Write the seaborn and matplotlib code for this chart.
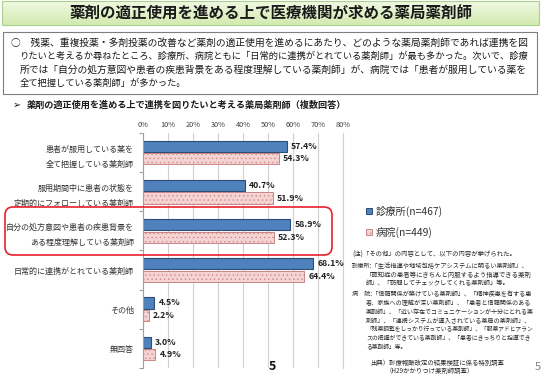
import numpy as np
import pandas as pd
import matplotlib
matplotlib.use("Agg")
import matplotlib.pyplot as plt
import seaborn as sns
from matplotlib.patches import Rectangle, FancyBboxPatch
from matplotlib.colors import LinearSegmentedColormap

# ---- data ----
categories = [
    "患者が服用している薬を\n全て把握している薬剤師",
    "服用期間中に患者の状態を\n定期的にフォローしている薬剤師",
    "自分の処方意図や患者の疾患背景を\nある程度理解している薬剤師",
    "日常的に連携がとれている薬剤師",
    "その他",
    "無回答",
]
clinic = [57.4, 40.7, 58.9, 68.1, 4.5, 3.0]
hospital = [54.3, 51.9, 52.3, 64.4, 2.2, 4.9]
series_names = ["診療所(n=467)", "病院(n=449)"]
xticks = [0, 10, 20, 30, 40, 50, 60, 70, 80]

title = "薬剤の適正使用を進める上で医療機関が求める薬局薬剤師"
summary_lines = [
    "○　残薬、重複投薬・多剤投薬の改善など薬剤の適正使用を進めるにあたり、どのような薬局薬剤師であれば連携を図",
    "りたいと考えるか尋ねたところ、診療所、病院ともに「日常的に連携がとれている薬剤師」が最も多かった。次いで、診療",
    "所では「自分の処方意図や患者の疾患背景をある程度理解している薬剤師」が、病院では「患者が服用している薬を",
    "全て把握している薬剤師」が多かった。",
]
subtitle = "薬剤の適正使用を進める上で連携を図りたいと考える薬局薬剤師（複数回答）"
note_head = "(注)「その他」の内容として、以下の内容が挙げられた。"
note_clinic = [
    "診療所:「生活指導や地域包括ケアシステムに明るい薬剤師」、",
    "「認知症の患者等にきちんと内服するよう指導できる薬剤",
    "師」、「訪問してチェックしてくれる薬剤師」等。",
]
note_hosp = [
    "病　院:「信頼関係が築けている薬剤師」、「精神疾患を有する患",
    "者、家族への理解が深い薬剤師」、「患者と信頼関係のある",
    "薬剤師」、「近い存在でコミュニケーションが十分にとれる薬",
    "剤師」、「連携システムが導入されている薬局の薬剤師」、",
    "「残薬調整をしっかり行っている薬剤師」、「服薬アドヒアラン",
    "スの把握ができている薬剤師」、「患者にきっちりと指導でき",
    "る薬剤師」等。",
]
source_lines = ["出典）診療報酬改定の結果検証に係る特別調査", "（H29かかりつけ薬剤師調査）"]

JP = ["Noto Sans CJK JP", "DejaVu Sans"]
plt.rcParams["font.family"] = JP
plt.rcParams["hatch.linewidth"] = 0.45

BLUE = "#4f81bd"
BLUE_EDGE = "#2c4d75"
PINK = "#f5d3d3"
PINK_EDGE = "#c98585"

df = pd.DataFrame({
    "cat": categories * 2,
    "val": clinic + hospital,
    "grp": [series_names[0]] * len(categories) + [series_names[1]] * len(categories),
})

W, H = 543, 378
fig = plt.figure(figsize=(W / 100, H / 100), dpi=100)

def fx(px):
    return px / W

def fy(py):
    return 1 - py / H

ax_left, ax_right, ax_top, ax_bot = 143, 343, 133, 368
ax = fig.add_axes([fx(ax_left), fy(ax_bot), fx(ax_right - ax_left), (ax_bot - ax_top) / H])

sns.barplot(data=df, y="cat", x="val", hue="grp", orient="h", ax=ax,
            palette=[BLUE, PINK], width=0.64, gap=0.1, legend=False,
            saturation=1)

n = len(categories)
for i, p in enumerate(ax.patches[:2 * n]):
    if i < n:
        p.set_edgecolor(BLUE_EDGE)
        p.set_linewidth(0.8)
    else:
        p.set_edgecolor(PINK_EDGE)
        p.set_linewidth(0.7)
        p.set_hatch("....")

for i, p in enumerate(ax.patches[:2 * n]):
    v = p.get_width()
    yc = p.get_y() + p.get_height() / 2
    ax.annotate(f"{v:.1f}%", (v, yc), xytext=(3, 0), textcoords="offset points",
                va="center", ha="left", fontsize=6.3, fontweight="bold", color="#222222")

ax.set_xlim(0, 80)
ax.set_ylim(n - 0.5, -0.5)
ax.set_xticks(xticks)
ax.set_xticklabels([f"{t}%" for t in xticks], fontsize=5.3, color="#404040")
ax.xaxis.tick_top()
ax.tick_params(axis="x", length=0, pad=3)
ax.tick_params(axis="y", length=0, pad=6.5, labelsize=5.8, labelcolor="#333333")
for t in ax.get_yticklabels():
    t.set_linespacing(1.85)
ax.set_yticks(np.arange(-0.5, n + 0.5, 1), minor=True)
ax.tick_params(axis="y", which="minor", length=3, color="#a0a0a0", width=0.8)
ax.set_xlabel("")
ax.set_ylabel("")
ax.grid(axis="x", color="#d0d0d0", linewidth=0.8)
ax.set_axisbelow(True)
for s in ["top", "bottom"]:
    ax.spines[s].set_visible(False)
ax.spines["right"].set_color("#d0d0d0")
ax.spines["right"].set_linewidth(0.8)
ax.spines["left"].set_color("#a0a0a0")
ax.spines["left"].set_linewidth(0.8)
ax.set_facecolor("none")

# ---- overlay in pixel coordinates ----
ov = fig.add_axes([0, 0, 1, 1], zorder=10)
ov.axis("off")
ov.patch.set_alpha(0)

grad = np.linspace(0, 1, 50).reshape(-1, 1)
cmap = LinearSegmentedColormap.from_list("g", ["#f1f9e3", "#d2eab0"])
ov.imshow(grad, extent=(2, 539, 25, 1), aspect="auto", cmap=cmap, zorder=1)
ov.set_xlim(0, W)
ov.set_ylim(H, 0)
ov.add_patch(Rectangle((2, 1), 537, 24, fill=False, edgecolor="#a9d18e", linewidth=0.8, zorder=2))
ov.text(271, 13.5, title, ha="center", va="center", fontsize=11.2, fontweight="bold", color="#1a1a1a")

renderer = fig.canvas.get_renderer()

def text_width(x, y, s, size, **kw):
    t = ov.text(x, y, s, fontsize=size, va="center", ha="left", **kw)
    bb = t.get_window_extent(renderer=renderer)
    t.remove()
    return bb.width

def fitted_size(x, s, right, base, **kw):
    w = text_width(x, 0, s, base, **kw)
    return base * (right - x) / w

# summary box
ov.add_patch(Rectangle((3, 32), 534, 62, fill=False, edgecolor="#7f7f7f", linewidth=0.8))
sum_x = [11, 20, 20, 20]
sum_y = [43, 56.5, 70, 83.5]
sum_sizes = [fitted_size(sum_x[k], summary_lines[k], 531, 7) for k in range(3)]
sum_sizes.append(min(sum_sizes))
for k, line in enumerate(summary_lines):
    ov.text(sum_x[k], sum_y[k], line, fontsize=sum_sizes[k], va="center", ha="left", color="#1a1a1a")

# subtitle
ov.text(13, 105, "➢", fontsize=7, va="center", ha="left", color="#1a1a1a", family=["DejaVu Sans"])
ov.text(27, 105, subtitle, fontsize=6.6, va="center", ha="left", fontweight="bold", color="#1a1a1a")

# red rounded rectangle
ov.add_patch(FancyBboxPatch((5, 207), 327, 48, boxstyle="round,pad=0,rounding_size=8",
                            fill=False, edgecolor="#e8202a", linewidth=1.2))

# legend
ov.add_patch(Rectangle((366, 208), 6, 6, facecolor=BLUE, edgecolor=BLUE_EDGE, linewidth=0.7))
ov.text(376, 211, series_names[0], fontsize=7.4, va="center", ha="left", color="#333333")
ov.add_patch(Rectangle((366, 229), 6, 6, facecolor=PINK, edgecolor=PINK_EDGE, linewidth=0.7, hatch="...."))
ov.text(376, 232, series_names[1], fontsize=7.4, va="center", ha="left", color="#333333")

# notes
NC = "#2a2a2a"
head_size = fitted_size(352, note_head, 515, 4.6)
ov.text(352, 255, note_head, fontsize=head_size, va="center", ha="left", color=NC)

c0 = fitted_size(352, note_clinic[0], 529, 4.6)
c1 = fitted_size(366, note_clinic[1], 531, 4.6)
ov.text(352, 266, note_clinic[0], fontsize=c0, va="center", ha="left", color=NC)
ov.text(366, 274.5, note_clinic[1], fontsize=c1, va="center", ha="left", color=NC)
ov.text(366, 283, note_clinic[2], fontsize=min(c0, c1), va="center", ha="left", color=NC)

h_rights = [533, 531, 533, 530, 533, 531]
h_sizes = [fitted_size(352 if k == 0 else 366, note_hosp[k], h_rights[k], 4.6) for k in range(6)]
h_sizes.append(min(h_sizes))
for k, line in enumerate(note_hosp):
    xx = 352 if k == 0 else 366
    yy = 294.5 if k == 0 else 303.3 + 8.8 * (k - 1)
    ov.text(xx, yy, line, fontsize=h_sizes[k], va="center", ha="left", color=NC)

ov.text(370, 363, source_lines[0], fontsize=4.6, va="center", ha="left", color=NC)
ov.text(386, 371, source_lines[1], fontsize=4.6, va="center", ha="left", color=NC)
ov.text(538, 367, "5", fontsize=8, va="center", ha="center", color="#7f7f7f")
ov.text(272, 367, "5", fontsize=9, va="center", ha="center", fontweight="bold", color="#111111")

fig.savefig("out.png", dpi=100)
